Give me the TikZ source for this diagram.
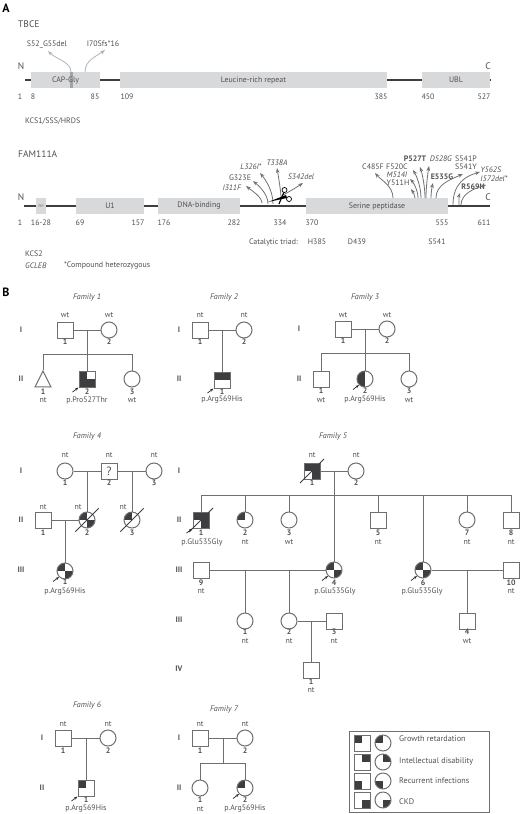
\documentclass[tikz,border=0pt]{standalone}
\usepackage{xcolor}
\usepackage{fontspec}
\setmainfont{PT Sans}
\usepackage{tikz}
\usetikzlibrary{arrows.meta,positioning,shapes.geometric,calc}
\definecolor{inkgray}{HTML}{505052}
\definecolor{linegray}{HTML}{6E6F71}
\definecolor{markfill}{HTML}{3E3E40}
\definecolor{domainfill}{HTML}{D8D9DA}
\definecolor{softarrow}{HTML}{B2B3B5}
\definecolor{mutarrow}{HTML}{707173}

\begin{document}
\begin{tikzpicture}[
  x=1pt, y=-1pt,
  font=\fontsize{7.9}{9}\selectfont, text=inkgray,
  note/.style={inner sep=0pt},
  num/.style={inner sep=0pt, font=\fontsize{7.9}{9}\selectfont\bfseries},
  titletext/.style={inner sep=0pt, font=\fontsize{9.5}{11}\selectfont},
  panel/.style={inner sep=0pt, text=black, font=\fontsize{12}{14}\selectfont\bfseries},
  domainbox/.style={fill=domainfill, minimum height=16, inner sep=0pt},
  backbone/.style={line width=2.2pt, color=markfill},
  softmut/.style={-{Stealth[length=5pt]}, thick, color=softarrow},
  mut/.style={-{Stealth[length=5pt]}, line width=0.8pt, color=mutarrow},
  ped/.style={line width=1pt, color=linegray},
  male/.style={draw=linegray, line width=1pt, fill=white, rectangle, minimum size=16, inner sep=0pt},
  female/.style={draw=linegray, line width=1pt, fill=white, circle, minimum size=16, inner sep=0pt},
  affected/.style={path picture={\foreach \cnr in {#1} {\fill[markfill] (path picture bounding box.center) rectangle (path picture bounding box.\cnr);}}},
  proband/.style={-{Stealth[length=3.5pt]}, line width=0.7pt, color=black!85},
  deceased/.style={line width=0.8pt, color=markfill, shorten <=-#1, shorten >=-#1}
]
\useasboundingbox (0,0) rectangle (520,814);

% panel A, TBCE
\node[panel] (panelA) at (6,8) {A};
\node[titletext, anchor=west] (tbce) at (18,24) {TBCE};
\node[titletext] (tbceN) at (21,66) {N};
\node[titletext] (tbceC) at (488,66) {C};
\coordinate (tbceL) at (25,80);
\coordinate (tbceR) at (491,80);
\draw[backbone] (tbceL) -- (tbceR);
\node[domainbox, minimum width=69] (capgly) at (65.5,80) {CAP-Gly};
\node[domainbox, minimum width=267] (leucine) at (253.5,80) {Leucine-rich repeat};
\node[domainbox, minimum width=68] (ubl) at (456,80) {UBL};
\node[fill=linegray, opacity=0.5, minimum width=3.5, minimum height=16, inner sep=0pt] (capdel) at (71.5,80) {};
\node[note] (s52) at (47,44) {S52\_G55del};
\node[note] (i70) at (103,44) {I70Sfs*16};
\foreach \nme/\sx/\sy/\hx/\hy/\ua/\ub/\va/\vb in {
  capa/71/72/48/51/0/-10/8/8,
  capb/85/72/105/50/0/-12/-8/6} {
  \coordinate (\nme-site) at (\sx,\sy);
  \coordinate (\nme-tip) at (\hx,\hy);
  \draw[softmut] (\nme-site) .. controls +(\ua,\ub) and +(\va,\vb) .. (\nme-tip);
}
\foreach \px/\txt [count=\i] in {20/1,33/8,95/85,127/109,381/385,428/450,484/527}
  \node[note] (tbcepos\i) at (\px,97) {\txt};
\node[note, anchor=west] (kcsone) at (25,121) {KCS1/SSS/HRDS};

% panel A, FAM111A
\node[titletext, anchor=west] (fam) at (18,154) {FAM111A};
\node[titletext] (famN) at (21,197) {N};
\node[titletext] (famC) at (488,197) {C};
\coordinate (famL) at (24,206);
\coordinate (famR) at (490,206);
\draw[backbone] (famL) -- (famR);
\node[domainbox, minimum width=10, font=\fontsize{3.5}{4}\selectfont] (pip) at (41,206) {PIP};
\node[domainbox, minimum width=68] (uone) at (110,206) {U1};
\node[domainbox, minimum width=82] (dnabind) at (199,206) {DNA-binding};
\node[domainbox, minimum width=142] (serine) at (377,206) {Serine peptidase};
\foreach \px/\py/\txt [count=\i] in {
  232/188/\textit{I311F},240/178/G323E,251/167/\textit{L326I*},277/163/\textit{T338A},301/177/\textit{S342del},
  373/167/C485F,397/167/F520C,415/159/\textbf{P527T},441/159/\textit{D528G},466/159/S541P,466/167/S541Y,
  397/175/\textit{M514I},398/183/Y511H,442/177/\textbf{E535G},491/170/\textit{Y562S},494/179/\textit{I572del*},473/187/\textbf{R569H}}
  \node[note] (mutlabel\i) at (\px,\py) {\txt};
\foreach \nme/\sx/\sy/\hx/\hy/\ua/\ub/\va/\vb in {
  iee/262/203/246/186/0/-6/5/4,
  gee/268/204/253/181/0/-10/6/5,
  lee/273/204/260/173/0/-14/5/6,
  tee/281/197/277/168/0/-5/1/6,
  see/283/195/303/183/6/-3/-6/4,
  cff/393/198/375/173/0/-12/6/7,
  yff/415/198/411/189/0/-3/2/3,
  mff/418/198/410/179/0/-8/3/3,
  fff/421/198/413/170/0/-12/3/5,
  pff/425/198/420/167/0/-12/2/6,
  dff/426/198/429/166/0/-12/-1/6,
  eff/431/198/433/183/0/-5/-1/4,
  sff/436/198/463/174/0/-13/-14/6,
  ygg/453/205/480/172/0/-22/-14/4,
  rgg/459/205/460/193/0/-4/-1/3,
  igg/461/205/486/185/0/-12/-10/3} {
  \coordinate (\nme-site) at (\sx,\sy);
  \coordinate (\nme-tip) at (\hx,\hy);
  \draw[mut] (\nme-site) .. controls +(\ua,\ub) and +(\va,\vb) .. (\nme-tip);
}
% scissors
\fill[black] (268,202) -- (286,195) -- (287,198) -- cycle;
\draw[black, line width=1.1pt] (279,204) -- (284,192);
\draw[black, line width=0.7pt, fill=white] (284.5,190) circle (2.5);
\draw[black, line width=0.7pt, fill=white] (289,199) circle (2.5);
\foreach \px/\txt [count=\i] in {20/1,41/16-28,80/69,138/157,164/176,234/282,280/334,312/370,442/555,484/611}
  \node[note] (fampos\i) at (\px,223) {\txt};
\node[note, anchor=east] (triad) at (298,242) {Catalytic triad:};
\node[note] (his) at (317,242) {H385};
\node[note] (asp) at (357,242) {D439};
\node[note] (ser) at (437,242) {S541};
\node[note, anchor=west] (kcstwo) at (25,254) {KCS2};
\node[note, anchor=west] (gcleb) at (25,266) {\textit{GCLEB}};
\node[note, anchor=west] (compound) at (64,266) {*Compound heterozygous};

% panel B, generation labels
\node[panel] (panelB) at (6,292) {B};
\foreach \px/\py/\txt [count=\i] in {
  21/330/I,21/379/II,179/330/I,179/379/II,299/329/I,299/379/II,
  21/471/I,21/520/II,21/570/III,179/471/I,179/520/II,179/570/III,179/620/III,179/669/IV,
  42/738/I,42/788/II,179/738/I,179/788/II}
  \node[num] (gen\i) at (\px,\py) {\txt};
\foreach \px/\py/\nr [count=\i] in {87/297/1,224/297/2,365/297/3,87/436/4,333/436/5,87/705/6,224/709/7}
  \node[note, font=\fontsize{8}{9}\selectfont\itshape] (famtitle\i) at (\px,\py) {Family \nr};

% family 1
\node[male] (fai) at (65,330) {};
\node[female] (faii) at (109,330) {};
\node[isosceles triangle, isosceles triangle apex angle=53, shape border rotate=90, draw=linegray, line width=1pt, fill=white, minimum width=16, minimum height=16, inner sep=0pt] (faiia) at (43,382) {};
\node[male, affected={north west,south west,south east}] (faiib) at (87,379) {};
\node[female] (faiic) at (132,379) {};
\coordinate (famid) at (87,330);
\coordinate (fabar) at (87,354);
\draw[ped] (fai) -- (faii);
\draw[ped] (famid) -- (fabar);
\draw[ped] (fabar) -| (faiia.apex);
\draw[ped] (fabar) -- (faiib);
\draw[ped] (fabar) -| (faiic);

% family 2
\node[male] (fbi) at (200,330) {};
\node[female] (fbii) at (244,330) {};
\node[male, affected={north west,north east}] (fbiia) at (222,380) {};
\coordinate (fbmid) at (222,330);
\draw[ped] (fbi) -- (fbii);
\draw[ped] (fbmid) -- (fbiia);

% family 3
\node[male] (fci) at (343,329) {};
\node[female] (fcii) at (387,329) {};
\node[male] (fciia) at (321,379) {};
\node[female, affected={north west,south west}] (fciib) at (365,379) {};
\node[female] (fciic) at (409,379) {};
\coordinate (fcmid) at (365,329);
\coordinate (fcbar) at (365,353);
\draw[ped] (fci) -- (fcii);
\draw[ped] (fcmid) -- (fciib);
\draw[ped] (fcbar) -| (fciia);
\draw[ped] (fcbar) -| (fciic);

% family 4
\node[female] (fdi) at (65,471) {};
\node[male, font=\fontsize{12}{14}\selectfont] (fdii) at (109,471) {?};
\node[female] (fdiii) at (154,471) {};
\node[male] (fdiia) at (43,520) {};
\node[female, affected={north west,south east}] (fdiib) at (87,520) {};
\node[female, affected={north west}] (fdiic) at (132,520) {};
\node[female, affected={north west,south east}] (fdiiia) at (65,571) {};
\coordinate (fdmida) at (87,471);
\coordinate (fdmidb) at (132,471);
\coordinate (fdmidc) at (65,520);
\draw[ped] (fdi) -- (fdii);
\draw[ped] (fdii) -- (fdiii);
\draw[ped] (fdmida) -- (fdiib);
\draw[ped] (fdmidb) -- (fdiic);
\draw[ped] (fdiia) -- (fdiib);
\draw[ped] (fdmidc) -- (fdiiia);
\draw[deceased=8pt] (fdiib.south west) -- (fdiib.north east);
\draw[deceased=8pt] (fdiic.south west) -- (fdiic.north east);

% family 5
\node[male, affected={north west,north east,south east}] (fei) at (312,471) {};
\node[female] (feii) at (356,471) {};
\node[male, affected={north west,north east,south east}] (feiia) at (201,520) {};
\node[female, affected={north west}] (feiib) at (245,520) {};
\node[female] (feiic) at (289,520) {};
\node[male] (feiie) at (378,520) {};
\node[female] (feiig) at (467,520) {};
\node[male] (feiih) at (511,520) {};
\node[male] (feiiii) at (201,570) {};
\node[female, affected={north west,south east}] (feiiid) at (334,570) {};
\node[female, affected={north west,south east}] (feiiif) at (423,570) {};
\node[male] (feiiij) at (511,570) {};
\node[female] (feiva) at (245,621) {};
\node[female] (feivb) at (289,621) {};
\node[male] (feivc) at (334,621) {};
\node[male] (feivd) at (467,621) {};
\node[male] (fevaa) at (311,670) {};
\coordinate (femid) at (334,471);
\coordinate (febar) at (334,495);
\coordinate (febarf) at (423,495);
\coordinate (femida) at (245,570);
\coordinate (femidb) at (289,570);
\coordinate (femidc) at (467,570);
\coordinate (femidd) at (311,621);
\draw[ped] (fei) -- (feii);
\draw[ped] (femid) -- (feiiid);
\draw[ped] (febar) -| (feiia);
\draw[ped] (febar) -| (feiib);
\draw[ped] (febar) -| (feiic);
\draw[ped] (febar) -| (feiie);
\draw[ped] (febar) -| (feiig);
\draw[ped] (febar) -| (feiih);
\draw[ped] (febarf) -- (feiiif);
\draw[ped] (feiiii) -- (feiiid);
\draw[ped] (feiiif) -- (feiiij);
\draw[ped] (femida) -- (feiva);
\draw[ped] (femidb) -- (feivb);
\draw[ped] (femidc) -- (feivd);
\draw[ped] (feivb) -- (feivc);
\draw[ped] (femidd) -- (fevaa);
\draw[deceased=5pt] (fei.south west) -- (fei.north east);
\draw[deceased=5pt] (feiia.south west) -- (feiia.north east);

% family 6
\node[male] (ffi) at (63,738) {};
\node[female] (ffii) at (108,738) {};
\node[male, affected={north west}] (ffiia) at (86,788) {};
\coordinate (ffmid) at (86,738);
\draw[ped] (ffi) -- (ffii);
\draw[ped] (ffmid) -- (ffiia);

% family 7
\node[male] (fgi) at (200,738) {};
\node[female] (fgii) at (245,738) {};
\node[female] (fgiia) at (200,788) {};
\node[female, affected={north west}] (fgiib) at (245,788) {};
\coordinate (fgmid) at (223,738);
\coordinate (fgbar) at (223,763);
\draw[ped] (fgi) -- (fgii);
\draw[ped] (fgmid) -- (fgbar);
\draw[ped] (fgbar) -| (fgiia);
\draw[ped] (fgbar) -| (fgiib);

% index patients
\foreach \who in {faiib,fbiia,fciib,fdiiia,feiia,feiiid,feiiif,ffiia,fgiib} {
  \coordinate (\who-tail) at ($(\who.south west)+(-6,4.5)$);
  \draw[proband] (\who-tail) -- (\who.south west);
}

% numbers under the symbols
\foreach \px/\py/\txt [count=\i] in {
  65/342/1,109/342/2,43/392/1,87/392/2,132/392/3,
  200/342/1,244/342/2,222/392/1,
  343/341/1,387/341/2,321/391/1,365/391/2,409/391/3,
  65/483/1,109/483/2,154/483/3,43/533/1,87/533/2,132/533/3,65/582/1,
  312/483/1,356/483/2,201/533/1,245/533/2,289/533/3,378/533/5,467/533/7,511/533/8,
  201/583/9,334/583/4,423/583/6,511/583/10,245/632/1,289/632/2,334/632/3,467/632/4,311/682/1,
  63/751/1,108/751/2,86/800/1,200/751/1,245/751/2,200/800/1,245/800/2}
  \node[num] (idnum\i) at (\px,\py) {\txt};

% genotypes
\foreach \px/\py/\txt [count=\i] in {
  65/315/wt,109/315/wt,43/400/nt,87/400/p.Pro527Thr,132/400/wt,
  200/315/nt,244/315/nt,222/400/p.Arg569His,
  343/315/wt,387/315/wt,321/400/wt,365/400/p.Arg569His,409/400/wt,
  65/455/nt,109/455/nt,154/455/nt,43/507/nt,78/507/nt,123/507/nt,65/592/p.Arg569His,
  312/455/nt,356/455/nt,202/542/p.Glu535Gly,245/542/nt,289/542/wt,378/542/nt,467/542/nt,511/542/nt,
  201/591/nt,335/591/p.Glu535Gly,422/591/p.Glu535Gly,511/591/nt,245/641/nt,289/641/nt,334/641/nt,467/641/wt,311/690/nt,
  63/724/nt,108/724/nt,86/809/p.Arg569His,200/724/nt,245/724/nt,200/809/nt,245/809/p.Arg569His}
  \node[note] (geno\i) at (\px,\py) {\txt};

% legend
\node[draw=linegray, line width=1pt, minimum width=140, minimum height=81, inner sep=0pt] (legendbox) at (419,771.5) {};
\foreach \pos/\py/\txt/\ty [count=\i] in {
  north west/743/Growth retardation/739,
  north east/762/Intellectual disability/761,
  south west/781/Recurrent infections/781,
  south east/800/CKD/802} {
  \node[male, affected={\pos}] (legsq\i) at (362,\py) {};
  \node[female, affected={\pos}] (legci\i) at (383,\py) {};
  \node[note, anchor=west, font=\fontsize{8.2}{10}\selectfont] (legtx\i) at (399,\ty) {\txt};
}
\end{tikzpicture}
\end{document}
